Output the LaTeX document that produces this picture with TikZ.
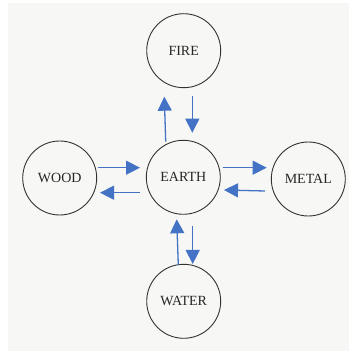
\documentclass[tikz,border=0pt]{standalone}
\usepackage{fontspec}
\setmainfont{Liberation Serif}
\usetikzlibrary{calc,arrows.meta}
\definecolor{bg}{HTML}{F7F7F5}
\definecolor{arrblue}{HTML}{4472C4}
\definecolor{ring}{HTML}{333333}
\tikzset{
  elem/.style={circle, draw=ring, line width=0.9pt, minimum size=74pt, inner sep=0pt,
    font=\fontsize{14}{16}\selectfont, text=black!85},
  arr/.style={draw=arrblue, line width=1.3pt, -{Triangle[length=14pt,width=14pt]}, arrblue}
}
\begin{document}
\begin{tikzpicture}[x=1pt,y=1pt]
\useasboundingbox (0,0) rectangle (349,351);
\fill[bg] (8,0) rectangle (349,348);
\node[elem] (fire)  at (183.7,300.3) {FIRE};
\node[elem] (earth) at (183.3,173.7) {EARTH};
\node[elem] (wood)  at (59.7,173)    {WOOD};
\node[elem] (metal) at (308.3,172)   {METAL};
\node[elem] (water) at (183.7,49.7)  {WATER};
\draw[arr] ($(earth.center)+(-17.6,35.6)$) -- ($(fire.center)+(-19.4,-46)$);
\draw[arr] ($(fire.center)+(8.6,-45.3)$) -- ($(earth.center)+(9,44.6)$);
\draw[arr] ($(wood.center)+(38,10.3)$) -- ($(earth.center)+(-43.3,9.6)$);
\draw[arr] ($(earth.center)+(-43.3,-15.4)$) -- ($(wood.center)+(40.3,-14.7)$);
\draw[arr] ($(earth.center)+(39.4,9.6)$) -- ($(metal.center)+(-41.6,11.3)$);
\draw[arr] ($(metal.center)+(-43.3,-12)$) -- ($(earth.center)+(40.7,-12.7)$);
\draw[arr] ($(water.center)+(-5.4,36.3)$) -- ($(earth.center)+(-6.6,-42)$);
\draw[arr] ($(earth.center)+(9.4,-48.7)$) -- ($(water.center)+(9,37.3)$);
\end{tikzpicture}
\end{document}
